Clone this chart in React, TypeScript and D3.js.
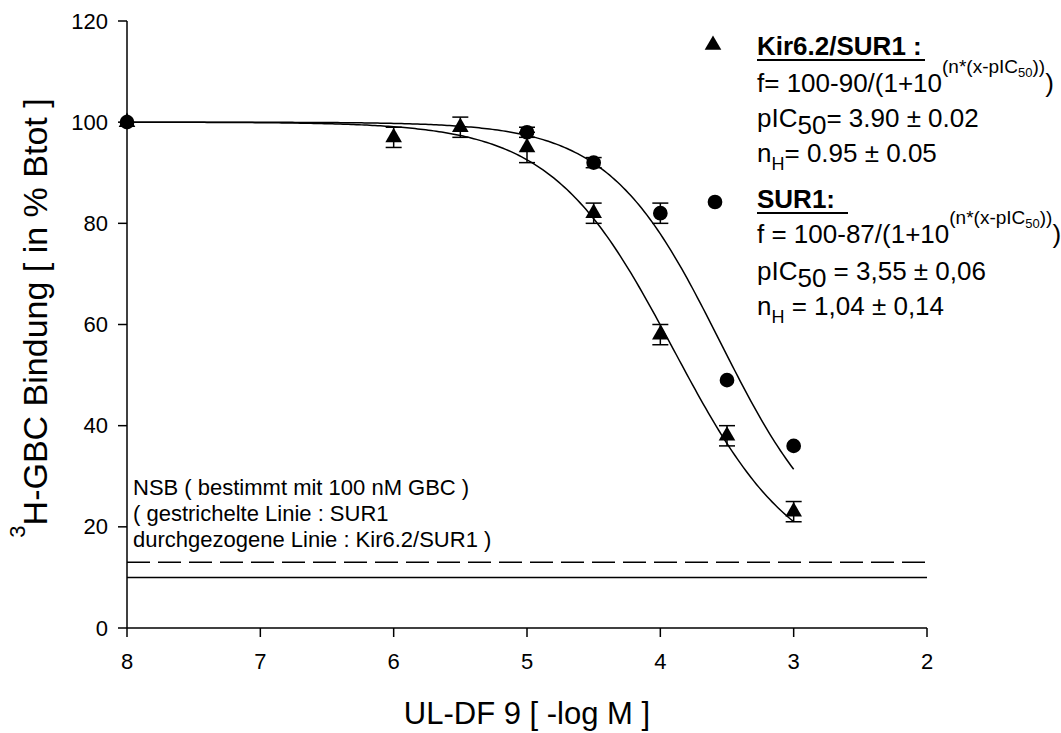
import React from 'react';
import * as d3 from 'd3';

const kirX = [8, 6, 5.5, 5, 4.5, 4, 3.5, 3];
const kirY = [100, 97, 99, 95, 82, 58, 38, 23];
const kirErr = [0, 2, 2, 3, 2, 2, 2, 2];

const surX = [8, 5, 4.5, 4, 3.5, 3];
const surY = [100, 98, 92, 82, 49, 36];
const surErr = [0, 1, 1, 2, 0, 0];

// fit parameters as printed in the legend
const kirFit = { span: 90, pIC50: 3.9, n: 0.95 };
const surFit = { span: 87, pIC50: 3.55, n: 1.04 };

// non-specific binding levels
const nsbSur = 13;
const nsbKir = 10;

const xTicks = [8, 7, 6, 5, 4, 3, 2];
const yTicks = [0, 20, 40, 60, 80, 100, 120];

const W = 1061;
const H = 733;
const FONT = '"Liberation Sans", Arial, sans-serif';

const x = d3.scaleLinear().domain([8, 2]).range([127, 927]);
const y = d3.scaleLinear().domain([0, 120]).range([628, 21]);

const fitCurve = (p: { span: number; pIC50: number; n: number }) => {
  const xs = d3.range(8, 2.999, -0.02);
  return xs.map(v => [v, 100 - p.span / (1 + Math.pow(10, p.n * (v - p.pIC50)))] as [number, number]);
};

const line = d3.line<[number, number]>()
  .x(d => x(d[0]))
  .y(d => y(d[1]));

const triPath = d3.symbol(d3.symbolTriangle, 120)() as string;
const circPath = d3.symbol(d3.symbolCircle, 170)() as string;

const ErrorBars: React.FC<{ xs: number[]; ys: number[]; errs: number[] }> = ({ xs, ys, errs }) => (
  <g stroke="#000" strokeWidth={1.5}>
    {xs.map((v, i) => errs[i] > 0 && (
      <g key={i}>
        <line x1={x(v)} x2={x(v)} y1={y(ys[i] - errs[i])} y2={y(ys[i] + errs[i])} />
        <line x1={x(v) - 8} x2={x(v) + 8} y1={y(ys[i] - errs[i])} y2={y(ys[i] - errs[i])} />
        <line x1={x(v) - 8} x2={x(v) + 8} y1={y(ys[i] + errs[i])} y2={y(ys[i] + errs[i])} />
      </g>
    ))}
  </g>
);

export default function App() {
  const lx = 757;
  return (
    <svg width={W} height={H} style={{ position: 'absolute', left: 0, top: 0, background: '#fff' }}
      fontFamily={FONT}>
      {/* NSB lines */}
      <line x1={x(8)} x2={x(2)} y1={y(nsbSur)} y2={y(nsbSur)} stroke="#000" strokeWidth={1.5} strokeDasharray="23,8" />
      <line x1={x(8)} x2={x(2)} y1={y(nsbKir)} y2={y(nsbKir)} stroke="#000" strokeWidth={1.5} />

      {/* axes */}
      <g stroke="#000" strokeWidth={1.5}>
        <line x1={x(8)} x2={x(8)} y1={y(0)} y2={y(120)} />
        <line x1={x(8)} x2={x(2)} y1={y(0)} y2={y(0)} />
        {yTicks.map(t => <line key={t} x1={x(8) - 9} x2={x(8)} y1={y(t)} y2={y(t)} />)}
        {xTicks.map(t => <line key={t} x1={x(t)} x2={x(t)} y1={y(0)} y2={y(0) + 9} />)}
      </g>
      <g fontSize={22} fill="#000">
        {yTicks.map(t => (
          <text key={t} x={x(8) - 19} y={y(t)} textAnchor="end" dominantBaseline="central">{t}</text>
        ))}
        {xTicks.map(t => (
          <text key={t} x={x(t)} y={y(0) + 41} textAnchor="middle">{t}</text>
        ))}
      </g>

      {/* axis titles */}
      <text x={527} y={724} textAnchor="middle" fontSize={31}>UL-DF 9 [ -log M ]</text>
      <text transform="translate(47,318) rotate(-90)" textAnchor="middle" fontSize={34}>
        <tspan fontSize={22} dy={-22}>3</tspan><tspan dy={22}>H-GBC Bindung [ in % Btot ]</tspan>
      </text>

      {/* fitted curves */}
      <path d={line(fitCurve(kirFit)) as string} fill="none" stroke="#000" strokeWidth={1.5} />
      <path d={line(fitCurve(surFit)) as string} fill="none" stroke="#000" strokeWidth={1.5} />

      {/* data */}
      <ErrorBars xs={kirX} ys={kirY} errs={kirErr} />
      <ErrorBars xs={surX} ys={surY} errs={surErr} />
      {kirX.map((v, i) => <path key={i} d={triPath} transform={`translate(${x(v)},${y(kirY[i])})`} fill="#000" />)}
      {surX.map((v, i) => <path key={i} d={circPath} transform={`translate(${x(v)},${y(surY[i])})`} fill="#000" />)}

      {/* NSB note */}
      <g fontSize={22}>
        <text x={133} y={495}>NSB ( bestimmt mit 100 nM GBC )</text>
        <text x={133} y={521}>( gestrichelte Linie : SUR1</text>
        <text x={133} y={547}>durchgezogene Linie : Kir6.2/SUR1 )</text>
      </g>

      {/* legend */}
      <path d={triPath} transform="translate(713,45)" fill="#000" />
      <path d={circPath} transform="translate(715,202)" fill="#000" />
      <g fontSize={26}>
        <text x={lx} y={55} fontWeight="bold">Kir6.2/SUR1 :</text>
        <line x1={lx} x2={lx + 168} y1={60} y2={60} stroke="#000" strokeWidth={2} />
        <text x={lx} y={92}>f= 100-90/(1+10<tspan y={73} fontSize={19}>(n*(x-pIC</tspan><tspan y={77} fontSize={13}>50</tspan><tspan y={73} fontSize={19}>))</tspan><tspan y={92}>)</tspan></text>
        <text x={lx} y={127}>pIC<tspan y={134}>50</tspan><tspan y={127}>= 3.90 ± 0.02</tspan></text>
        <text x={lx} y={162}>n<tspan y={170} fontSize={18}>H</tspan><tspan y={162}>= 0.95 ± 0.05</tspan></text>

        <text x={lx} y={208} fontWeight="bold">SUR1:</text>
        <line x1={lx} x2={lx + 91} y1={213} y2={213} stroke="#000" strokeWidth={2} />
        <text x={lx} y={243}>f = 100-87/(1+10<tspan y={224} fontSize={19}>(n*(x-pIC</tspan><tspan y={228} fontSize={13}>50</tspan><tspan y={224} fontSize={19}>))</tspan><tspan y={243}>)</tspan></text>
        <text x={lx} y={280}>pIC<tspan y={287}>50</tspan><tspan y={280}> = 3,55 ± 0,06</tspan></text>
        <text x={lx} y={315}>n<tspan y={323} fontSize={18}>H</tspan><tspan y={315}> = 1,04 ± 0,14</tspan></text>
      </g>
    </svg>
  );
}
